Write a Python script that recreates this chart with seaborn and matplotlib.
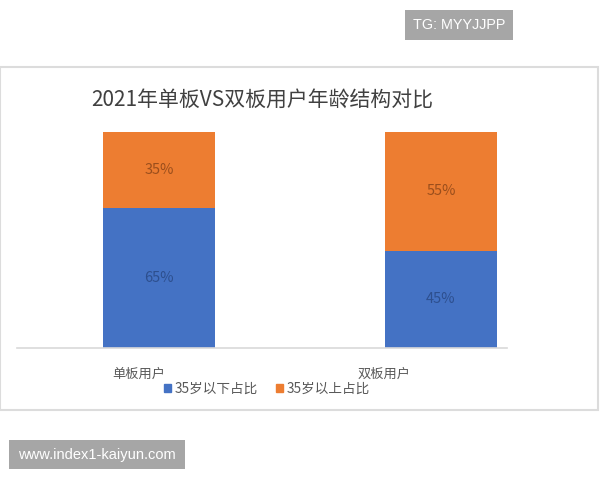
import matplotlib
matplotlib.use('Agg')
import matplotlib.pyplot as plt
import matplotlib.patches as mpatches
import matplotlib.transforms as mtransforms
import pandas as pd
import seaborn as sns

# data
categories = ['单板用户', '双板用户']
under_35 = [65, 45]
over_35 = [35, 55]
series_names = ['35岁以下占比', '35岁以上占比']
title = '2021年单板VS双板用户年龄结构对比'

blue = '#4472C4'
orange = '#ED7D31'

sns.set_theme(style='white')
plt.rcParams['font.family'] = ['Noto Sans CJK SC', 'DejaVu Sans']

df = pd.DataFrame({'cat': categories, 'under': under_35, 'over': over_35})
df['total'] = df['under'] + df['over']

fig = plt.figure(figsize=(6, 4.8), dpi=100)
fig.patch.set_facecolor('white')

# chart frame
frame = mpatches.Rectangle((0 / 600, 1 - 410 / 480), 598 / 600, 343 / 480,
                           transform=fig.transFigure, fill=False,
                           edgecolor='#dcdcdc', linewidth=1.5)
fig.add_artist(frame)

ax = fig.add_axes([17 / 600, 1 - 348 / 480, 490 / 600, 216 / 480])
sns.barplot(data=df, x='cat', y='total', color=orange, saturation=1,
            width=0.4, ax=ax, linewidth=0)
sns.barplot(data=df, x='cat', y='under', color=blue, saturation=1,
            width=0.4, ax=ax, linewidth=0)
ax.set_xlim(-0.5035, 1.234)
ax.set_ylim(0, 100)
ax.set_xlabel('')
ax.set_ylabel('')
ax.set_yticks([])
ax.set_facecolor('none')
for s in ['top', 'left', 'right']:
    ax.spines[s].set_visible(False)
ax.spines['bottom'].set_color('#d9d9d9')
ax.spines['bottom'].set_linewidth(1.2)

# value labels
for i, (u, o) in enumerate(zip(under_35, over_35)):
    ax.text(i, u / 2, f'{u}%', ha='center', va='center', fontsize=10.5,
            color='#2d4f8e')
    ax.text(i, u + o / 2, f'{o}%', ha='center', va='center', fontsize=10.5,
            color='#9a4e1c')

# category labels (shifted like the source picture)
ax.tick_params(axis='x', length=0, pad=14, labelsize=9.5, labelcolor='#595959')
shifts = [-20, -57]
for lab, dx in zip(ax.get_xticklabels(), shifts):
    off = mtransforms.ScaledTranslation(dx / 100, 0, fig.dpi_scale_trans)
    lab.set_transform(lab.get_transform() + off)

fig.text(262 / 600, 1 - 100 / 480, title, ha='center', va='center',
         fontsize=15, color='#404040')

handles = [mpatches.Patch(color=blue, label=series_names[0]),
           mpatches.Patch(color=orange, label=series_names[1])]
fig.legend(handles=handles, loc='center', bbox_to_anchor=(267 / 600, 1 - 389 / 480),
           ncol=2, frameon=False, fontsize=9.8, handlelength=0.5,
           handleheight=0.5, handletextpad=0.3, columnspacing=1.3,
           labelcolor='#595959')

# watermark boxes
box1 = mpatches.Rectangle((405 / 600, 1 - 40 / 480), 108 / 600, 30 / 480,
                          transform=fig.transFigure, color='#a6a6a6', lw=0)
fig.add_artist(box1)
fig.text(459 / 600, 1 - 25 / 480, 'TG: MYYJJPP', ha='center', va='center',
         fontsize=10.4, color='white', family=['Liberation Sans', 'DejaVu Sans'])
box2 = mpatches.Rectangle((9 / 600, 1 - 469 / 480), 176 / 600, 29 / 480,
                          transform=fig.transFigure, color='#a6a6a6', lw=0)
fig.add_artist(box2)
fig.text(97 / 600, 1 - 454.5 / 480, 'www.index1-kaiyun.com', ha='center',
         va='center', fontsize=10.5, color='white',
         family=['Liberation Sans', 'DejaVu Sans'])

fig.savefig('out.png', dpi=100)
